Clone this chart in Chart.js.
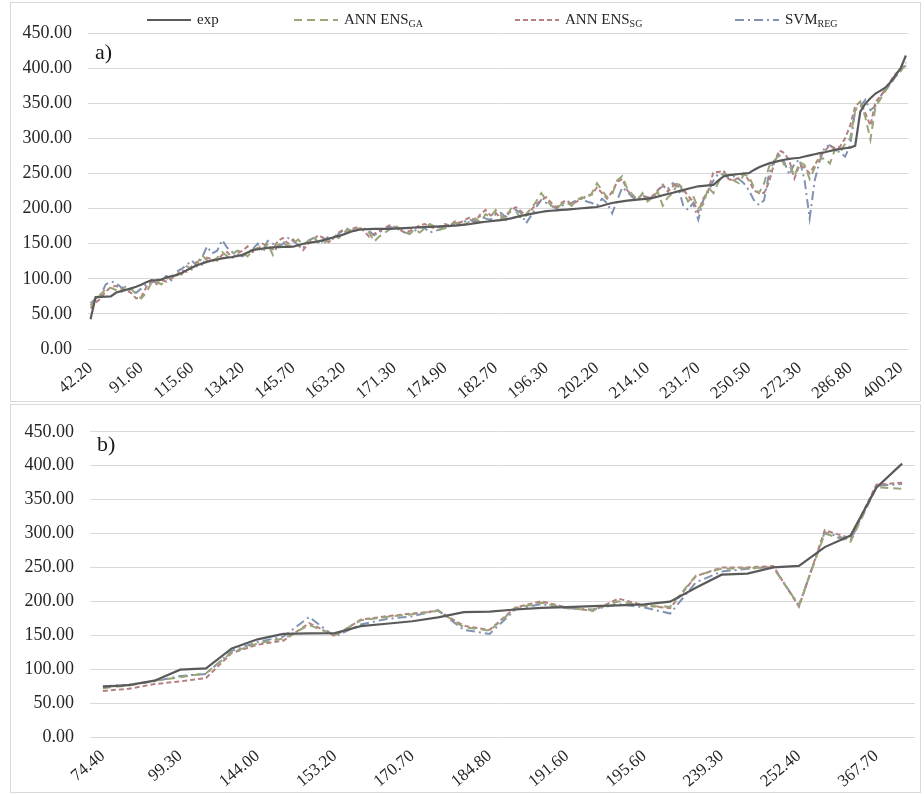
<!DOCTYPE html>
<html>
<head>
<meta charset="utf-8">
<script src="https://cdn.jsdelivr.net/npm/chart.js@4/dist/chart.umd.min.js"></script>
<style>
  html, body { margin: 0; padding: 0; background: #fff; }
  .panel { position: absolute; left: 10px; width: 911px; border: 1px solid #d9d9d9; box-sizing: border-box; background: #fff; }
  #pa { top: 2px; height: 400px; }
  #pb { top: 404px; height: 389px; }
  canvas { display: block; }
</style>
</head>
<body>
<div class="panel" id="pa"><canvas id="ca" width="909" height="398"></canvas></div>
<div class="panel" id="pb"><canvas id="cb" width="909" height="387"></canvas></div>
<script>
// ---- Panel a) : experimental values (sorted) and model predictions ----
const expA = [
  42.2, 74.0, 74.3, 74.6, 75.0, 80.1, 82.4, 84.2, 86.3, 88.7,
  91.6, 95.0, 97.8, 98.2, 98.9, 102.0, 103.6, 105.1, 108.4, 112.0,
  115.6, 119.3, 121.8, 124.0, 126.2, 127.5, 129.0, 130.1, 131.0, 132.4,
  134.2, 137.5, 140.8, 142.0, 143.1, 144.0, 144.6, 145.0, 145.3, 145.5,
  145.7, 147.8, 149.9, 151.0, 152.2, 153.4, 155.1, 157.0, 159.2, 161.0,
  163.2, 166.0, 168.3, 169.8, 170.5, 170.8, 171.0, 171.0, 171.1, 171.2,
  171.3, 171.8, 172.2, 172.6, 173.0, 173.3, 173.7, 174.0, 174.3, 174.6,
  174.9, 175.2, 175.8, 176.4, 177.1, 178.0, 179.2, 180.3, 181.2, 182.0,
  182.7, 183.4, 184.6, 186.0, 187.8, 189.6, 191.0, 192.4, 193.8, 195.1,
  196.3, 196.9, 197.4, 198.0, 198.6, 199.1, 199.7, 200.4, 201.0, 201.6,
  202.2, 204.0, 206.1, 207.9, 209.2, 210.3, 211.2, 212.0, 212.8, 213.5,
  214.1, 215.3, 217.0, 219.0, 220.8, 222.5, 224.4, 226.3, 228.2, 230.0,
  231.7, 232.4, 233.0, 233.6, 240.2, 245.8, 247.6, 248.4, 249.2, 249.9,
  250.5, 255.0, 258.7, 261.8, 264.3, 266.2, 267.9, 269.5, 270.8, 271.6,
  272.3, 274.1, 275.8, 277.4, 278.9, 280.2, 281.9, 283.5, 284.9, 285.9,
  286.8, 289.5, 338.0, 349.5, 357.2, 363.8, 368.0, 372.5, 380.1, 390.3,
  400.2, 418.0
];
const gaA = [
  62, 70, 78, 85, 87, 84, 80, 90, 86, 78,
  72, 80, 94, 96, 92, 100, 104, 108, 106, 118,
  113, 121, 134, 126, 124, 130, 138, 132, 135, 140,
  138, 132, 140, 144, 138, 150, 134, 148, 152, 146,
  150, 156, 148, 154, 160, 152, 150, 156, 162, 158,
  166, 170, 168, 172, 170, 166, 153, 160, 165, 170,
  176, 172, 168, 164, 170, 166, 172, 178, 174, 170,
  172, 176, 180, 176, 178, 182, 186, 180, 192, 188,
  198, 190, 184, 200, 196, 186, 192, 200, 210, 222,
  212, 204, 200, 206, 210, 204, 212, 216, 214, 222,
  236, 226, 216, 220, 240, 246, 228, 220, 212, 222,
  210, 216, 224, 204, 216, 222, 238, 224, 210, 218,
  200, 206, 230, 222, 238, 250, 246, 240, 236, 248,
  246, 230, 222, 236, 260, 268, 276, 262, 262, 246,
  266, 262, 242, 258, 270, 272, 264, 284, 280, 292,
  300, 340, 352, 330, 298, 345, 356, 368, 378, 390,
  396, 405
];
const sgA = [
  58, 66, 72, 82, 88, 90, 86, 84, 80, 72,
  74, 88, 96, 92, 98, 96, 100, 106, 112, 110,
  118, 124, 120, 130, 128, 126, 134, 138, 130, 136,
  140, 146, 138, 142, 150, 146, 142, 154, 158, 150,
  156, 148, 141, 150, 156, 162, 158, 152, 158, 166,
  170, 168, 172, 174, 168, 160, 164, 168, 172, 176,
  174, 170, 166, 168, 172, 176, 178, 174, 172, 174,
  178, 176, 182, 180, 184, 188, 182, 192, 198, 190,
  194, 186, 190, 198, 202, 196, 190, 198, 206, 212,
  216, 208, 202, 208, 212, 206, 210, 214, 218, 220,
  230, 222, 214, 224, 238, 242, 226, 218, 214, 220,
  214, 218, 226, 234, 224, 232, 236, 228, 218, 210,
  195, 214, 226, 252, 252, 254, 242, 240, 244, 250,
  240, 226, 222, 222, 238, 265, 283, 279, 268, 243,
  262, 258, 250, 262, 274, 282, 290, 286, 288, 300,
  318, 346, 352, 336, 318, 352, 360, 370, 382, 392,
  398, 408
];
const svmA = [
  65, 72, 76, 92, 96, 94, 88, 86, 84, 80,
  86, 92, 98, 94, 100, 104, 98, 110, 114, 120,
  126, 118, 130, 146, 136, 140, 155, 144, 138, 134,
  132, 136, 142, 150, 140, 154, 150, 146, 150, 158,
  154, 148, 144, 154, 158, 150, 154, 160, 156, 164,
  170, 172, 168, 170, 172, 168, 162, 166, 170, 174,
  172, 170, 166, 164, 168, 174, 172, 166, 168, 170,
  176, 174, 180, 178, 182, 184, 180, 190, 186, 184,
  192, 194, 188, 196, 198, 194, 179, 190, 202, 212,
  208, 204, 200, 204, 206, 208, 212, 214, 210, 208,
  204, 214, 208, 193, 212, 230, 224, 216, 212, 218,
  216, 214, 226, 232, 228, 236, 232, 205, 198, 208,
  184, 212, 224, 240, 250, 248, 244, 246, 242, 236,
  226, 212, 205, 212, 250, 268, 276, 266, 248, 264,
  270, 240, 186, 240, 268, 288, 290, 284, 280, 274,
  290, 340, 345, 355, 340, 346, 360, 370, 378, 388,
  396, 404
];

// ---- Panel b) ----
const expB = [
  74.4, 76.5, 83.0, 99.3, 101.2, 130.5, 144.0, 152.0, 152.8, 153.2,
  163.5, 167.0, 170.7, 176.5, 184.2, 184.8, 188.0, 190.5, 191.6, 193.0,
  194.0, 195.6, 199.5, 220.0, 239.3, 241.0, 250.0, 252.4, 280.0, 297.0,
  367.7, 403.0
];
const gaB = [
  72, 76, 83, 88, 94, 125, 138, 145, 165, 150,
  172, 177, 181, 186, 162, 157, 190, 198, 190, 187,
  200, 193, 192, 238, 248, 249, 250, 194, 300, 288,
  368, 366
];
const sgB = [
  68, 71, 78, 82, 87, 124, 136, 142, 168, 149,
  173, 178, 182, 186, 164, 158, 191, 200, 191, 186,
  204, 194, 190, 237, 250, 250, 252, 192, 305, 293,
  372, 375
];
const svmB = [
  75, 77, 82, 90, 93, 127, 140, 148, 177, 148,
  166, 174, 178, 187, 158, 152, 188, 196, 190, 188,
  196, 191, 182, 228, 244, 248, 251, 194, 302, 290,
  370, 373
];

// category labels are the experimental values themselves
const labelsA = expA.map(v => v.toFixed(2));
const labelsB = expB.map(v => v.toFixed(2));

const SERIF = '"Liberation Serif", "Times New Roman", serif';
const TEXT = '#262626';

const STYLE = {
  exp: { color: '#5a5a5a', dash: [], width: 2.2 },
  ga:  { color: '#9aa57a', dash: [8, 5], width: 2 },
  sg:  { color: '#b5807f', dash: [5, 3], width: 2 },
  svm: { color: '#8193b2', dash: [9, 4, 2, 4], width: 2 }
};

// legend with subscripted names, plus the panel tag
const decor = {
  id: 'decor',
  afterDraw(chart, args, opts) {
    const ctx = chart.ctx;
    ctx.save();
    if (opts.legend) {
      const y = opts.legendY;
      chart.data.datasets.forEach((ds, i) => {
        const x0 = opts.legendX[i];
        ctx.beginPath();
        ctx.setLineDash(ds.borderDash || []);
        ctx.lineWidth = ds.borderWidth;
        ctx.strokeStyle = ds.borderColor;
        ctx.moveTo(x0, y);
        ctx.lineTo(x0 + 44, y);
        ctx.stroke();
        ctx.setLineDash([]);
        ctx.fillStyle = TEXT;
        ctx.textBaseline = 'middle';
        ctx.textAlign = 'left';
        ctx.font = '15px ' + SERIF;
        const tx = x0 + 50;
        ctx.fillText(ds.label, tx, y);
        if (ds.sub) {
          const w = ctx.measureText(ds.label).width;
          ctx.font = '10px ' + SERIF;
          ctx.fillText(ds.sub, tx + w, y + 4);
        }
      });
    }
    ctx.fillStyle = '#1a1a1a';
    ctx.textBaseline = 'middle';
    ctx.textAlign = 'left';
    ctx.font = '22px ' + SERIF;
    ctx.fillText(opts.tag, opts.tagX, opts.tagY);
    ctx.restore();
  }
};

function makeChart(id, labels, exp, ga, sg, svm, cfg) {
  const ds = (label, sub, data, s, order) => ({
    label, sub, data,
    borderColor: s.color, borderDash: s.dash, borderWidth: s.width,
    pointRadius: 0, tension: 0, fill: false, order
  });
  return new Chart(document.getElementById(id), {
    type: 'line',
    data: {
      labels,
      datasets: [
        ds('exp', '', exp, STYLE.exp, 0),
        ds('ANN ENS', 'GA', ga, STYLE.ga, 1),
        ds('ANN ENS', 'SG', sg, STYLE.sg, 2),
        ds('SVM', 'REG', svm, STYLE.svm, 3)
      ]
    },
    options: {
      responsive: false,
      animation: false,
      events: [],
      layout: { padding: { top: cfg.top, right: cfg.right, left: 0, bottom: 0 } },
      plugins: {
        legend: { display: false },
        tooltip: { enabled: false },
        decor: cfg.decor
      },
      scales: {
        x: {
          offset: true,
          grid: { display: false },
          border: { display: false },
          ticks: {
            autoSkip: false,
            minRotation: 40,
            maxRotation: 40,
            padding: 1,
            color: TEXT,
            font: { family: SERIF, size: 17 },
            callback: (v, i) => (i % cfg.every === 0 ? labels[i] : '')
          },
          afterFit: s => { s.height = cfg.xHeight; }
        },
        y: {
          min: 0,
          max: 450,
          grid: { color: '#d9d9d9', lineWidth: 1, drawTicks: false },
          border: { display: false },
          ticks: {
            stepSize: 50,
            padding: 16,
            color: TEXT,
            font: { family: SERIF, size: 18 },
            callback: v => v.toFixed(2)
          },
          afterFit: s => { s.width = cfg.yWidth; }
        }
      }
    },
    plugins: [decor]
  });
}

makeChart('ca', labelsA, expA, gaA, sgA, svmA, {
  top: 30, right: 5, yWidth: 77, xHeight: 52, every: 10,
  decor: { legend: true, legendY: 17, legendX: [136, 283, 504, 724], tag: 'a)', tagX: 84, tagY: 50 }
});

makeChart('cb', labelsB, expB, gaB, sgB, svmB, {
  top: 19, right: 5, yWidth: 79, xHeight: 55, every: 3,
  decor: { legend: false, tag: 'b)', tagX: 86, tagY: 40 }
});
</script>
</body>
</html>
